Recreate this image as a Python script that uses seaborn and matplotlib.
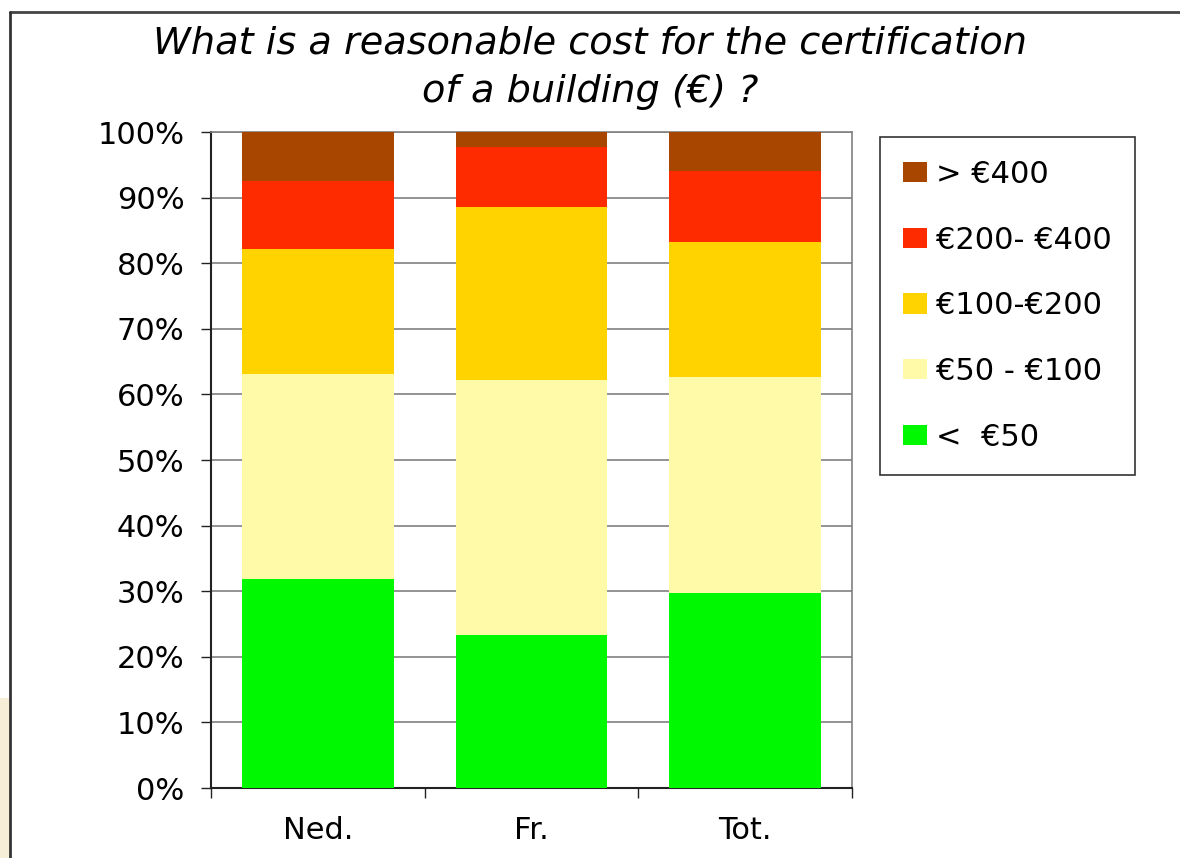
import numpy as np
import pandas as pd
import matplotlib
matplotlib.use('Agg')
import matplotlib.pyplot as plt
from matplotlib.patches import Patch, Rectangle
from matplotlib.lines import Line2D
import seaborn as sns

categorias = ['Ned.', 'Fr.', 'Tot.']
classes = ['<  €50', '€50 - €100', '€100-€200', '€200- €400', '> €400']
cores = ['#00F800', '#FFFAA8', '#FFD300', '#FF2B00', '#A84600']
titulo = ['What is a reasonable cost for the certification', 'of a building (€) ?']

# percentagens por classe (de baixo para cima)
menos_50 = [31.9, 23.3, 29.7]
de_50_100 = [31.2, 38.9, 32.9]
de_100_200 = [19.1, 26.4, 20.7]
de_200_400 = [10.4, 9.1, 10.7]
mais_400 = [7.4, 2.3, 6.0]

valores = np.array([menos_50, de_50_100, de_100_200, de_200_400, mais_400])
acumulado = valores.cumsum(axis=0)

sns.set_theme(style="white")
plt.rcParams['font.family'] = ['DejaVu Sans']
plt.rcParams.update({'text.color': 'black', 'xtick.color': 'black',
                     'ytick.color': 'black', 'axes.labelcolor': 'black'})

fig = plt.figure(figsize=(11.8, 8.58), dpi=100)
ax = fig.add_axes([211/1180, 1-788/858, (852-211)/1180, (788-132)/858])

# barras empilhadas: desenha do topo para baixo, cada uma por cima da anterior
for i in range(len(classes) - 1, -1, -1):
    df = pd.DataFrame({'cat': categorias, 'val': acumulado[i]})
    sns.barplot(data=df, x='cat', y='val', color=cores[i], saturation=1,
                width=0.71, linewidth=0, ax=ax, zorder=3)

ax.set_xlim(-0.5, 2.5)
ax.set_ylim(0, 100)
ax.set_yticks(np.arange(0, 101, 10))
ax.set_yticklabels([f'{v}%' for v in range(0, 101, 10)])
ax.yaxis.grid(True, color='#808080', linewidth=1.2, zorder=0)
ax.set_axisbelow(True)
ax.set_xlabel('')
ax.set_ylabel('')

ax.tick_params(axis='y', which='major', direction='out', length=7, width=1,
               color='#222222', labelsize=22, pad=12, left=True)
ax.set_xticks([0, 1, 2])
ax.set_xticklabels(categorias)
ax.tick_params(axis='x', which='major', length=0, labelsize=22, pad=20)
ax.set_xticks([-0.5, 0.5, 1.5, 2.5], minor=True)
ax.tick_params(axis='x', which='minor', direction='out', length=7, width=1,
               color='#222222', bottom=True)

for lado in ['left', 'bottom']:
    ax.spines[lado].set_color('#222222')
    ax.spines[lado].set_linewidth(1.5)
for lado in ['top', 'right']:
    ax.spines[lado].set_color('#808080')
    ax.spines[lado].set_linewidth(1.2)

fig.text(0.5, 1-44/858, titulo[0], ha='center', va='center',
         fontsize=27.5, style='italic')
fig.text(0.5, 1-92/858, titulo[1], ha='center', va='center',
         fontsize=27.5, style='italic')

handles = [Patch(facecolor=cores[i], edgecolor='none') for i in range(len(classes) - 1, -1, -1)]
labels = [classes[i] for i in range(len(classes) - 1, -1, -1)]
leg = fig.legend(handles, labels, loc='upper left', bbox_to_anchor=(880/1180, 1-137/858),
                 fontsize=22, frameon=True, fancybox=False, handlelength=0.78,
                 handleheight=0.65, handletextpad=0.3, labelspacing=1.2,
                 borderpad=0.75, borderaxespad=0)
leg.get_frame().set_edgecolor('black')
leg.get_frame().set_linewidth(1.2)

# moldura da figura
fig.add_artist(Rectangle((0, 0), 9/1180, 160/858, transform=fig.transFigure,
                         facecolor='#F6EED6', edgecolor='none'))
fig.add_artist(Line2D([10/1180, 1], [1-12/858, 1-12/858], transform=fig.transFigure,
                      color='#444444', linewidth=2))
fig.add_artist(Line2D([10/1180, 10/1180], [0, 1-12/858], transform=fig.transFigure,
                      color='#333333', linewidth=2))

fig.savefig('out.png', dpi=100)
